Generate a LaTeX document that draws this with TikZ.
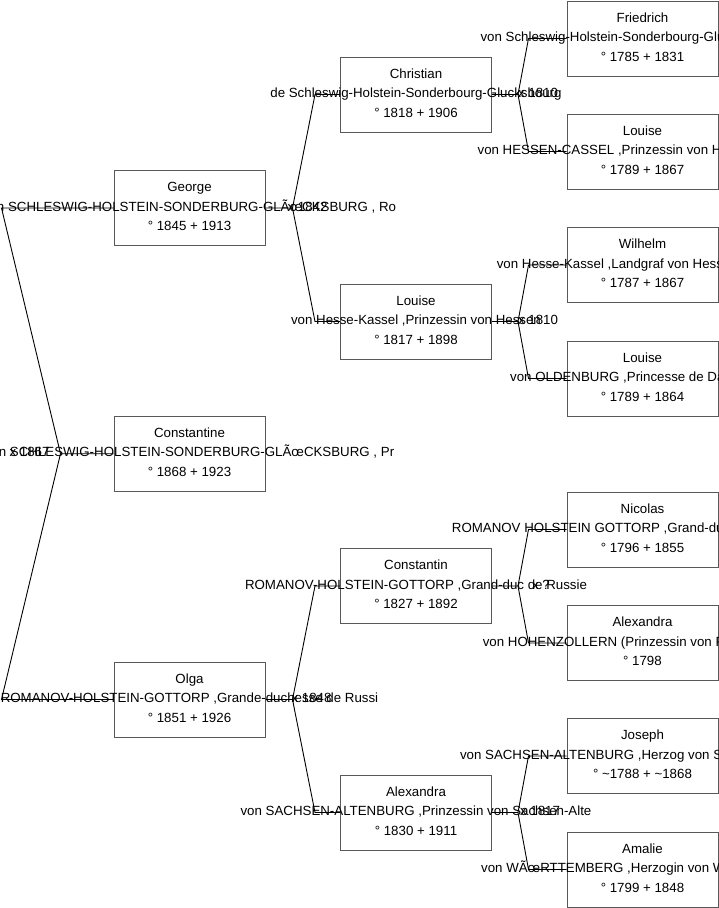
\documentclass[tikz,border=0pt]{standalone}
\usepackage{fontspec}
\setmainfont{Liberation Sans}
\usetikzlibrary{calc}

\begin{document}
\begin{tikzpicture}[x=1pt,y=-1pt,
 pbox/.style={draw=black!65,line width=1pt,minimum width=151pt,minimum height=75pt,inner sep=0pt},
 ptext/.style={align=center,inner sep=0pt,yshift=1.5pt,font=\fontsize{13.3}{19.5}\selectfont},
 mlabel/.style={inner sep=0pt,yshift=1.5pt,font=\fontsize{13.3}{19.5}\selectfont},
 conn/.style={draw=black,line width=.9pt}]
\useasboundingbox (0,0) rectangle (719,908);
% root and its parents
\node[pbox] (constantine) at (189.5,453.7) {};
\node[ptext] (constantine-t) at (constantine) {Constantine\\von SCHLESWIG-HOLSTEIN-SONDERBURG-GLÃœCKSBURG , Pr\\° 1868 + 1923};
\node[pbox] (george) at (189.5,208) {};
\node[ptext] (george-t) at (george) {George\\von SCHLESWIG-HOLSTEIN-SONDERBURG-GLÃœCKSBURG , Ro\\° 1845 + 1913};
\node[pbox] (olga) at (189.5,699.5) {};
\node[ptext] (olga-t) at (olga) {Olga\\ROMANOV-HOLSTEIN-GOTTORP ,Grande-duchesse de Russi\\° 1851 + 1926};
% grand parents
\node[pbox] (christian) at (416,94.5) {};
\node[ptext] (christian-t) at (christian) {Christian\\de Schleswig-Holstein-Sonderbourg-Glucksbourg\\° 1818 + 1906};
\node[pbox] (louiseh) at (416,321.5) {};
\node[ptext] (louiseh-t) at (louiseh) {Louise\\von Hesse-Kassel ,Prinzessin von Hessen\\° 1817 + 1898};
\node[pbox] (constantin) at (416,586) {};
\node[ptext] (constantin-t) at (constantin) {Constantin\\ROMANOV-HOLSTEIN-GOTTORP ,Grand-duc de Russie\\° 1827 + 1892};
\node[pbox] (alexandras) at (416,812.5) {};
\node[ptext] (alexandras-t) at (alexandras) {Alexandra\\von SACHSEN-ALTENBURG ,Prinzessin von Sachsen-Alte\\° 1830 + 1911};
% great grand parents
\node[pbox] (friedrich) at (642.5,38.5) {};
\node[ptext] (friedrich-t) at (friedrich) {Friedrich\\von Schleswig-Holstein-Sonderbourg-Glucksbourg\rule{26pt}{0pt}\\° 1785 + 1831};
\node[pbox] (louisec) at (642.5,151.5) {};
\node[ptext] (louisec-t) at (louisec) {Louise\\von HESSEN-CASSEL ,Prinzessin von Hessen-Kassel\rule{6pt}{0pt}\\° 1789 + 1867};
\node[pbox] (wilhelm) at (642.5,265) {};
\node[ptext] (wilhelm-t) at (wilhelm) {Wilhelm\\von Hesse-Kassel ,Landgraf von Hessen-Kassel\rule{6pt}{0pt}\\° 1787 + 1867};
\node[pbox] (louiseo) at (642.5,378.5) {};
\node[ptext] (louiseo-t) at (louiseo) {Louise\\von OLDENBURG ,Princesse de Danemark\rule{6pt}{0pt}\\° 1789 + 1864};
\node[pbox] (nicolas) at (642.5,529.5) {};
\node[ptext] (nicolas-t) at (nicolas) {Nicolas\\ROMANOV HOLSTEIN GOTTORP ,Grand-duc de Russie\rule{40pt}{0pt}\\° 1796 + 1855};
\node[pbox] (alexandrap) at (642.5,643) {};
\node[ptext] (alexandrap-t) at (alexandrap) {Alexandra\\von HOHENZOLLERN (Prinzessin von Preussen)\rule{26pt}{0pt}\\° 1798};
\node[pbox] (joseph) at (642.5,756) {};
\node[ptext] (joseph-t) at (joseph) {Joseph\\von SACHSEN-ALTENBURG ,Herzog von Sachsen-Altenbur\rule{6pt}{0pt}\\° \textasciitilde1788 + \textasciitilde1868};
\node[pbox] (amalie) at (642.5,869.5) {};
\node[ptext] (amalie-t) at (amalie) {Amalie\\von WÃœRTTEMBERG ,Herzogin von WÃœrttemberg\\° 1799 + 1848};
% connectors
\draw[conn] (constantine.west) -- ++(-53,0) coordinate (jr) -- ($(george.west)+(-112,0)$) -- (george.west);
\draw[conn] (jr) -- ($(olga.west)+(-112,0)$) -- (olga.west);
\draw[conn] (george.east) -- ++(27,0) coordinate (jg) -- ($(christian.west)+(-25,0)$) -- (christian.west);
\draw[conn] (jg) -- ($(louiseh.west)+(-25,0)$) -- (louiseh.west);
\draw[conn] (olga.east) -- ++(27,0) coordinate (jo) -- ($(constantin.west)+(-25,0)$) -- (constantin.west);
\draw[conn] (jo) -- ($(alexandras.west)+(-25,0)$) -- (alexandras.west);
\draw[conn] (christian.east) -- ++(26,0) coordinate (jc) -- ($(friedrich.west)+(-38,0)$) -- (friedrich.west);
\draw[conn] (jc) -- ($(louisec.west)+(-38,0)$) -- (louisec.west);
\draw[conn] (louiseh.east) -- ++(26,0) coordinate (jl) -- ($(wilhelm.west)+(-38,0)$) -- (wilhelm.west);
\draw[conn] (jl) -- ($(louiseo.west)+(-38,0)$) -- (louiseo.west);
\draw[conn] (constantin.east) -- ++(26,0) coordinate (jn) -- ($(nicolas.west)+(-38,0)$) -- (nicolas.west);
\draw[conn] (jn) -- ($(alexandrap.west)+(-38,0)$) -- (alexandrap.west);
\draw[conn] (alexandras.east) -- ++(26,0) coordinate (ja) -- ($(joseph.west)+(-38,0)$) -- (joseph.west);
\draw[conn] (ja) -- ($(amalie.west)+(-38,0)$) -- (amalie.west);
% marriages
\node[mlabel] (m-root) at ($(jr)+(-31,0)$) {x 1867};
\node[mlabel] (m-george) at ($(jg)+(15,0)$) {x 1842};
\node[mlabel] (m-olga) at ($(jo)+(19,0)$) {x 1848};
\node[mlabel] (m-christian) at ($(jc)+(20,0)$) {x 1810};
\node[mlabel] (m-louise) at ($(jl)+(20,0)$) {x 1810};
\node[mlabel] (m-constantin) at ($(jn)+(23,0)$) {x ?};
\node[mlabel] (m-alexandra) at ($(ja)+(22,0)$) {x 1817};
\end{tikzpicture}
\end{document}
